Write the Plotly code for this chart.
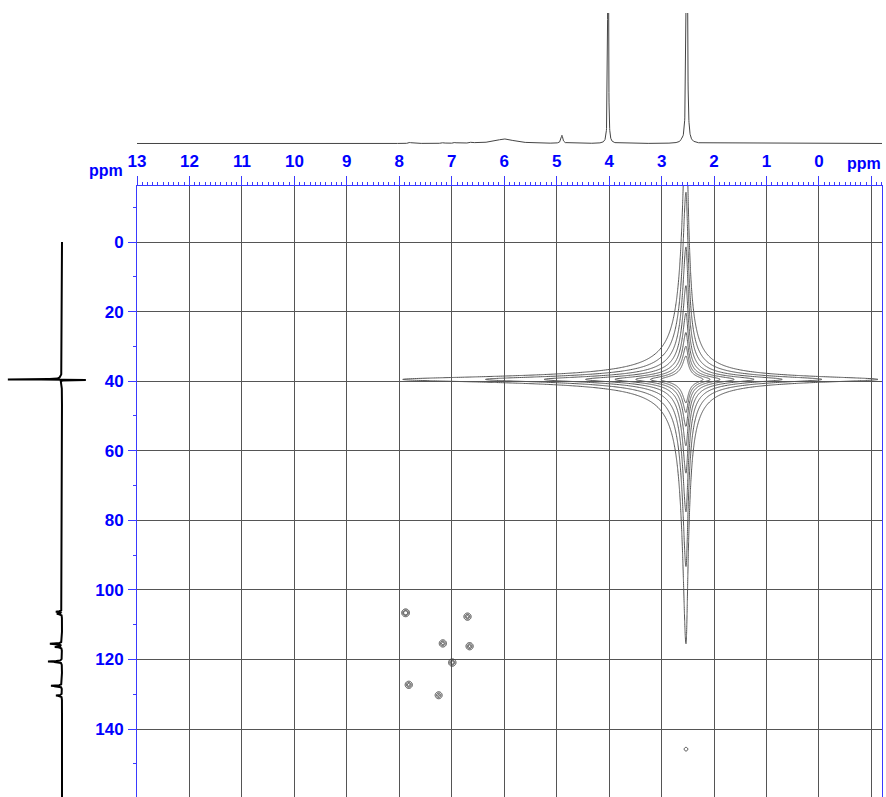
import numpy as np
import plotly.graph_objects as go

# ---------------- data ----------------
x_tickvals = [13, 12, 11, 10, 9, 8, 7, 6, 5, 4, 3, 2, 1, 0, -1]
x_ticktext = ["13", "12", "11", "10", "9", "8", "7", "6", "5", "4", "3", "2", "1", "0", ""]
y_tickvals = [0, 20, 40, 60, 80, 100, 120, 140]
y_ticktext = ["0", "20", "40", "60", "80", "100", "120", "140"]

# 1H projection (top): peak positions (ppm), heights (px units), half widths (ppm)
top_pos = [7.80, 7.16, 6.94, 6.62, 5.99, 4.90, 4.02, 2.62, 2.52]
top_height = [1.2, 1.0, 1.0, 1.2, 4.5, 8.0, 1500.0, 1.5, 1500.0]
top_width = [0.02, 0.02, 0.02, 0.03, 0.22, 0.02, 0.003, 0.01, 0.005]

# 13C projection (left): peak positions (ppm), heights (px units), half widths (ppm)
left_pos = [39.5, 39.7, 39.3, 106.3, 106.9, 115.5, 116.4, 120.6, 127.6, 130.4]
left_height = [53.5, -29.0, 2.5, 6.0, 5.0, 12.0, 7.0, 14.0, 11.0, 6.0]
left_width = [0.05, 0.05, 0.8, 0.12, 0.12, 0.12, 0.12, 0.12, 0.12, 0.12]

# solvent cross peak (1H ppm, 13C ppm) and its contour extents (ppm)
cross_x, cross_y = 2.535, 39.5
cross_reach_left, cross_reach_right, cross_reach_vert = 5.40, 3.66, 76.0
cross_levels_log = (-3.95, -1.8, 0.3)

# small HSQC cross peaks
small_x = [7.88, 6.70, 7.17, 6.66, 6.99, 7.82, 7.25, 2.535]
small_y = [106.6, 107.7, 115.4, 116.2, 120.9, 127.3, 130.3, 145.8]
small_amp = [1.3, 1.0, 1.0, 1.0, 1.1, 1.0, 0.9, 0.3]

BLUE = "#0000ff"
AXBLUE = "#3a3aff"
GRID = "#555555"

# ---------------- build traces ----------------
fig = go.Figure()

# top 1D spectrum
xt = np.arange(-1.25, 13.05, 0.002)
yt = np.zeros_like(xt)
for p, h, w in zip(top_pos, top_height, top_width):
    yt += h * w**2 / ((xt - p) ** 2 + w**2)
fig.add_trace(go.Scatter(x=xt, y=yt, mode="lines", line=dict(color="#444444", width=1),
                         xaxis="x2", yaxis="y2", hoverinfo="skip", showlegend=False))

# left 1D spectrum
yl = np.arange(0.0, 159.6, 0.01)
xl = np.zeros_like(yl)
for p, h, w in zip(left_pos, left_height, left_width):
    xl += h * w**2 / ((yl - p) ** 2 + w**2)
fig.add_trace(go.Scatter(x=xl, y=yl, mode="lines", line=dict(color="#000000", width=2),
                         xaxis="x3", yaxis="y3", hoverinfo="skip", showlegend=False))

# big cross peak contour (log intensity)
M = np.sqrt(10 ** (-cross_levels_log[0]))
wl, wr, wy = cross_reach_left / M, cross_reach_right / M, cross_reach_vert / M
gx = np.unique(np.concatenate([np.arange(-1.25, 8.3, 0.04),
                               np.arange(cross_x - 0.4, cross_x + 0.4, 0.005)]))
gy = np.unique(np.concatenate([np.arange(-17.0, 118.0, 0.6),
                               np.arange(cross_y - 6.0, cross_y + 6.0, 0.08)]))
dx = gx - cross_x
wxv = np.where(dx > 0, wl, wr)
Lx = 1.0 / (1.0 + (dx / wxv) ** 2)
Ly = 1.0 / (1.0 + ((gy - cross_y) / wy) ** 2)
Zc = np.log10(np.outer(Ly, Lx)).astype(np.float32)
fig.add_trace(go.Contour(x=gx, y=gy, z=Zc, autocontour=False,
                         contours=dict(coloring="lines", start=cross_levels_log[0],
                                       end=cross_levels_log[1], size=cross_levels_log[2]),
                         colorscale=[[0, "#555555"], [1, "#555555"]], line=dict(width=1),
                         showscale=False, hoverinfo="skip", xaxis="x", yaxis="y"))

# small cross peaks
sx = np.unique(np.concatenate([np.arange(6.4, 8.1, 0.008), np.arange(2.42, 2.66, 0.008)]))
sy = np.unique(np.concatenate([np.arange(103.0, 134.0, 0.14), np.arange(143.5, 148.2, 0.14)]))
SX, SY = np.meshgrid(sx, sy)
Zs = np.zeros_like(SX)
sgx, sgy = 2.0 / 52.46, 2.0 / 3.4786
for px, py, a in zip(small_x, small_y, small_amp):
    Zs += a * np.exp(-((SX - px) / sgx) ** 2 / 2 - ((SY - py) / sgy) ** 2 / 2)
fig.add_trace(go.Contour(x=sx, y=sy, z=Zs.astype(np.float32), autocontour=False,
                         contours=dict(coloring="lines", start=0.2, end=0.8, size=0.3),
                         colorscale=[[0, "#444444"], [1, "#444444"]], line=dict(width=1),
                         showscale=False, hoverinfo="skip", xaxis="x", yaxis="y"))

W, H = 886, 797
xdom = [137 / W, 882 / W]
ydom = [0, 1 - 186 / H]
tickfont = dict(family="Liberation Sans", size=17, color=BLUE, weight="bold")
lblfont = dict(family="Liberation Sans", size=16, color=BLUE, weight="bold")

fig.update_layout(
    width=W, height=H, margin=dict(l=0, r=0, t=0, b=0, autoexpand=False),
    paper_bgcolor="white", plot_bgcolor="white", showlegend=False,
    xaxis=dict(domain=xdom, range=[13, -1.201], side="top", anchor="y", automargin=False,
               tickmode="array", tickvals=x_tickvals, ticktext=x_ticktext,
               ticks="outside", ticklen=9, tickcolor=AXBLUE, tickwidth=1,
               tickfont=tickfont, ticklabelstandoff=2,
               showline=True, linecolor=AXBLUE, linewidth=1,
               showgrid=True, gridcolor=GRID, gridwidth=1, zeroline=False,
               minor=dict(tickmode="linear", tick0=0, dtick=0.1, ticks="outside",
                          ticklen=3, tickcolor=AXBLUE, showgrid=False)),
    yaxis=dict(domain=ydom, range=[159.55, -16.1], anchor="x", automargin=False,
               tickmode="array", tickvals=y_tickvals, ticktext=y_ticktext,
               ticks="outside", ticklen=8, tickcolor=AXBLUE, tickwidth=1,
               tickfont=tickfont, ticklabelstandoff=1,
               showline=True, mirror=True, linecolor=AXBLUE, linewidth=1,
               showgrid=True, gridcolor=GRID, gridwidth=1, zeroline=False,
               minor=dict(tickmode="linear", tick0=0, dtick=10, ticks="outside",
                          ticklen=3, tickcolor=AXBLUE, showgrid=False)),
    xaxis2=dict(domain=xdom, matches="x", anchor="y2", visible=False, automargin=False),
    yaxis2=dict(domain=[1 - 146 / H, 1 - 13 / H], range=[-2.5, 130.5], anchor="x2",
                visible=False, automargin=False),
    xaxis3=dict(domain=[0, 100 / W], range=[62, -38], anchor="y3", visible=False,
                automargin=False),
    yaxis3=dict(domain=ydom, matches="y", anchor="x3", visible=False, showgrid=False,
                automargin=False),
    annotations=[
        dict(text="ppm", x=106 / W, y=1 - 170 / H, xref="paper", yref="paper",
             xanchor="center", yanchor="middle", showarrow=False, font=lblfont),
        dict(text="ppm", x=864 / W, y=1 - 163 / H, xref="paper", yref="paper",
             xanchor="center", yanchor="middle", showarrow=False, font=lblfont),
    ],
)

fig.write_html("out.html", config={"displayModeBar": False},
               post_script="document.body.style.margin='0';document.body.style.padding='0';")
